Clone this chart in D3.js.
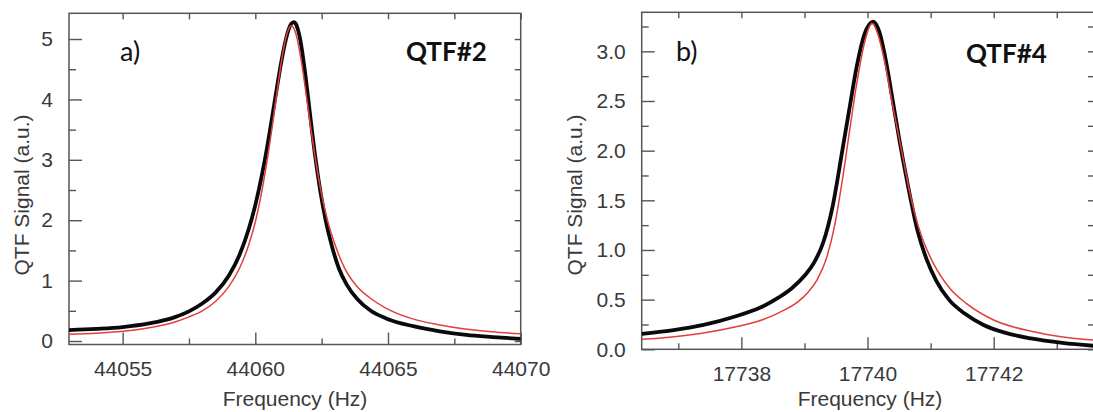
<!DOCTYPE html>
<html>
<head>
<meta charset="utf-8">
<script src="https://cdn.jsdelivr.net/npm/d3@7"></script>
<style>
  html, body { margin: 0; padding: 0; background: #fff; }
  svg { display: block; }
  .tick text { font-family: "Liberation Sans", Arial, sans-serif; font-size: 21px; fill: #3a3a3a; }
  .tick line { stroke: #555; stroke-width: 1.4; }
  .axis-title { font-family: "Liberation Sans", Arial, sans-serif; font-size: 21px; fill: #3a3a3a; }
  .panel-tag { font-family: Lato, "Open Sans", sans-serif; font-size: 27px; fill: #111; }
  .panel-name { font-family: Lato, "Open Sans", sans-serif; font-size: 26px; font-weight: 700; fill: #111; }
</style>
</head>
<body>
<svg id="chart" width="1093" height="412"></svg>
<script>
// ---- Panel a) QTF#2 : measured resonance (black) and Lorentzian fit (red)
const freqMeasA = [44052.98, 44054, 44055, 44056, 44057, 44057.5, 44058, 44058.5, 44059, 44059.4,
  44059.75, 44060.0, 44060.25, 44060.45, 44060.65, 44060.85, 44061.0, 44061.15, 44061.25, 44061.35,
  44061.45, 44061.55, 44061.65, 44061.75, 44061.9, 44062.05, 44062.25, 44062.45, 44062.65, 44062.9,
  44063.15, 44063.45, 44063.85, 44064.35, 44064.95, 44065.95, 44066.95, 44067.95, 44068.95, 44070];
const signalMeasA = [0.18, 0.20, 0.23, 0.29, 0.40, 0.49, 0.62, 0.80, 1.08, 1.42,
  1.85, 2.25, 2.75, 3.22, 3.75, 4.29, 4.67, 4.99, 5.15, 5.25,
  5.28, 5.23, 5.08, 4.84, 4.36, 3.80, 3.08, 2.48, 2.00, 1.55,
  1.20, 0.93, 0.69, 0.50, 0.37, 0.245, 0.16, 0.10, 0.065, 0.035];
const freqFitA = [44052.98, 44054, 44055, 44056, 44057, 44057.5, 44058, 44058.5, 44059, 44059.4,
  44059.75, 44060.0, 44060.25, 44060.45, 44060.65, 44060.85, 44061.0, 44061.15, 44061.25, 44061.36,
  44061.47, 44061.57, 44061.72, 44061.87, 44062.07, 44062.27, 44062.47, 44062.72, 44063.0, 44063.35,
  44063.8, 44064.3, 44064.9, 44065.9, 44066.9, 44067.9, 44068.9, 44070];
const signalFitA = [0.11, 0.13, 0.16, 0.22, 0.32, 0.40, 0.50, 0.655, 0.90, 1.20,
  1.59, 1.97, 2.49, 3.00, 3.59, 4.23, 4.67, 5.02, 5.16, 5.22,
  5.16, 5.02, 4.67, 4.23, 3.59, 3.00, 2.49, 2.00, 1.60, 1.22,
  0.92, 0.72, 0.55, 0.37, 0.27, 0.20, 0.155, 0.12];
const xTicksA = [44055, 44060, 44065, 44070];
const xMinorA = [44057.5, 44062.5, 44067.5];
const yTicksA = [0, 1, 2, 3, 4, 5];
const yMinorA = [0.5, 1.5, 2.5, 3.5, 4.5];

// ---- Panel b) QTF#4
const freqMeasB = [17736.42, 17736.9, 17737.4, 17737.9, 17738.3, 17738.6, 17738.8, 17739.0, 17739.15, 17739.3,
  17739.45, 17739.6, 17739.72, 17739.83, 17739.95, 17740.09, 17740.19, 17740.29, 17740.39, 17740.51,
  17740.64, 17740.79, 17740.94, 17741.09, 17741.29, 17741.54, 17741.84, 17742.19, 17742.59, 17743.09,
  17743.59];
const signalMeasB = [0.155, 0.19, 0.245, 0.33, 0.42, 0.525, 0.615, 0.74, 0.87, 1.08,
  1.45, 2.00, 2.45, 2.85, 3.17, 3.30, 3.19, 2.91, 2.54, 2.09,
  1.65, 1.20, 0.90, 0.69, 0.50, 0.36, 0.245, 0.165, 0.11, 0.065,
  0.035];
const freqFitB = [17736.42, 17736.9, 17737.4, 17737.9, 17738.3, 17738.6, 17738.9, 17739.05, 17739.2, 17739.35,
  17739.48, 17739.6, 17739.72, 17739.83, 17739.95, 17740.07, 17740.16, 17740.27, 17740.4, 17740.54,
  17740.68, 17740.85, 17741.04, 17741.31, 17741.57, 17742.0, 17742.63, 17743.1, 17743.59];
const signalFitB = [0.10, 0.125, 0.165, 0.225, 0.29, 0.37, 0.48, 0.57, 0.70, 0.92,
  1.25, 1.70, 2.22, 2.68, 3.08, 3.28, 3.18, 2.90, 2.45, 2.00,
  1.55, 1.15, 0.87, 0.61, 0.46, 0.295, 0.177, 0.125, 0.094];
const xTicksB = [17738, 17740, 17742];
const xMinorB = [17737, 17739, 17741, 17743];
const yTicksB = [0, 0.5, 1.0, 1.5, 2.0, 2.5, 3.0];
const yMinorB = [0.25, 0.75, 1.25, 1.75, 2.25, 2.75, 3.25];

const svg = d3.select("#chart");
const AXIS = "#555";

function drawPanel(p) {
  const x = d3.scaleLinear().domain(p.xDomain).range([p.left, p.right]);
  const y = d3.scaleLinear().domain(p.yDomain).range([p.bottom, p.top]);
  const g = svg.append("g");

  const clipId = "clip-" + p.id;
  svg.append("clipPath").attr("id", clipId)
    .append("rect").attr("x", p.left).attr("y", p.top)
    .attr("width", p.right - p.left).attr("height", p.bottom - p.top);

  // bottom axis: major ticks with labels, minor ticks without
  const bottom = g.append("g").attr("transform", `translate(0,${p.bottom})`);
  bottom.call(d3.axisBottom(x).tickValues(p.xTicks).tickSize(-12).tickPadding(16.5)
      .tickFormat(d3.format("d")))
    .call(a => a.select(".domain").remove());
  bottom.append("g").call(d3.axisBottom(x).tickValues(p.xMinor).tickSize(-6).tickFormat(""))
    .call(a => a.select(".domain").remove());

  // left axis
  const left = g.append("g").attr("transform", `translate(${p.left},0)`);
  left.call(d3.axisLeft(y).tickValues(p.yTicks).tickSize(-13).tickPadding(16)
      .tickFormat(p.yFormat))
    .call(a => a.select(".domain").remove());
  left.append("g").call(d3.axisLeft(y).tickValues(p.yMinor).tickSize(-7).tickFormat(""))
    .call(a => a.select(".domain").remove());

  // mirrored short ticks on top and right
  const top = g.append("g").attr("transform", `translate(0,${p.top})`);
  top.call(d3.axisTop(x).tickValues(p.xTicks.concat(p.xMinor)).tickSize(-6).tickFormat(""))
    .call(a => a.select(".domain").remove());
  const right = g.append("g").attr("transform", `translate(${p.right},0)`);
  right.call(d3.axisRight(y).tickValues(p.yTicks.concat(p.yMinor)).tickSize(-6).tickFormat(""))
    .call(a => a.select(".domain").remove());

  g.selectAll(".tick line").attr("stroke", AXIS);
  g.selectAll(".tick text").attr("fill", "#3a3a3a");

  // frame
  g.append("rect").attr("x", p.left).attr("y", p.top)
    .attr("width", p.right - p.left).attr("height", p.bottom - p.top)
    .attr("fill", "none").attr("stroke", AXIS).attr("stroke-width", 1.5);

  const line = d3.line().x(d => x(d[0])).y(d => y(d[1])).curve(d3.curveMonotoneX);
  const meas = p.measF.map((f, i) => [f, p.measV[i]]);
  const fit = p.fitF.map((f, i) => [f, p.fitV[i]]);

  const plot = g.append("g").attr("clip-path", `url(#${clipId})`);
  plot.append("path").datum(meas).attr("d", line)
    .attr("fill", "none").attr("stroke", "#0a0a0a").attr("stroke-width", 3.8)
    .attr("stroke-linejoin", "round");
  plot.append("path").datum(fit).attr("d", line)
    .attr("fill", "none").attr("stroke", "#e0403c").attr("stroke-width", 1.5);

  // axis titles
  g.append("text").attr("class", "axis-title")
    .attr("x", p.xTitleX).attr("y", 406).attr("text-anchor", "middle")
    .text("Frequency (Hz)");
  g.append("text").attr("class", "axis-title")
    .attr("transform", `translate(${p.yTitleX},195) rotate(-90)`).attr("text-anchor", "middle")
    .text("QTF Signal (a.u.)");

  // panel tag and resonator name
  g.append("text").attr("class", "panel-tag").attr("x", p.tagX).attr("y", 61).text(p.tag);
  g.append("text").attr("class", "panel-name").attr("x", p.nameX).attr("y", p.nameY).text(p.name);
}

drawPanel({
  id: "a", left: 69, right: 520.7, top: 13.3, bottom: 344.5,
  xDomain: [44052.98, 44070], yDomain: [-0.058, 5.426],
  xTicks: xTicksA, xMinor: xMinorA, yTicks: yTicksA, yMinor: yMinorA,
  yFormat: d3.format("d"),
  measF: freqMeasA, measV: signalMeasA, fitF: freqFitA, fitV: signalFitA,
  xTitleX: 295, yTitleX: 28.5, tag: "a)", tagX: 120, name: "QTF#2", nameX: 406, nameY: 61
});

drawPanel({
  id: "b", left: 641.7, right: 1094, top: 12.3, bottom: 349.3,
  xDomain: [17736.42, 17743.59], yDomain: [0, 3.393],
  xTicks: xTicksB, xMinor: xMinorB, yTicks: yTicksB, yMinor: yMinorB,
  yFormat: d3.format(".1f"),
  measF: freqMeasB, measV: signalMeasB, fitF: freqFitB, fitV: signalFitB,
  xTitleX: 870, yTitleX: 582, tag: "b)", tagX: 676, name: "QTF#4", nameX: 966, nameY: 63
});
</script>
</body>
</html>
